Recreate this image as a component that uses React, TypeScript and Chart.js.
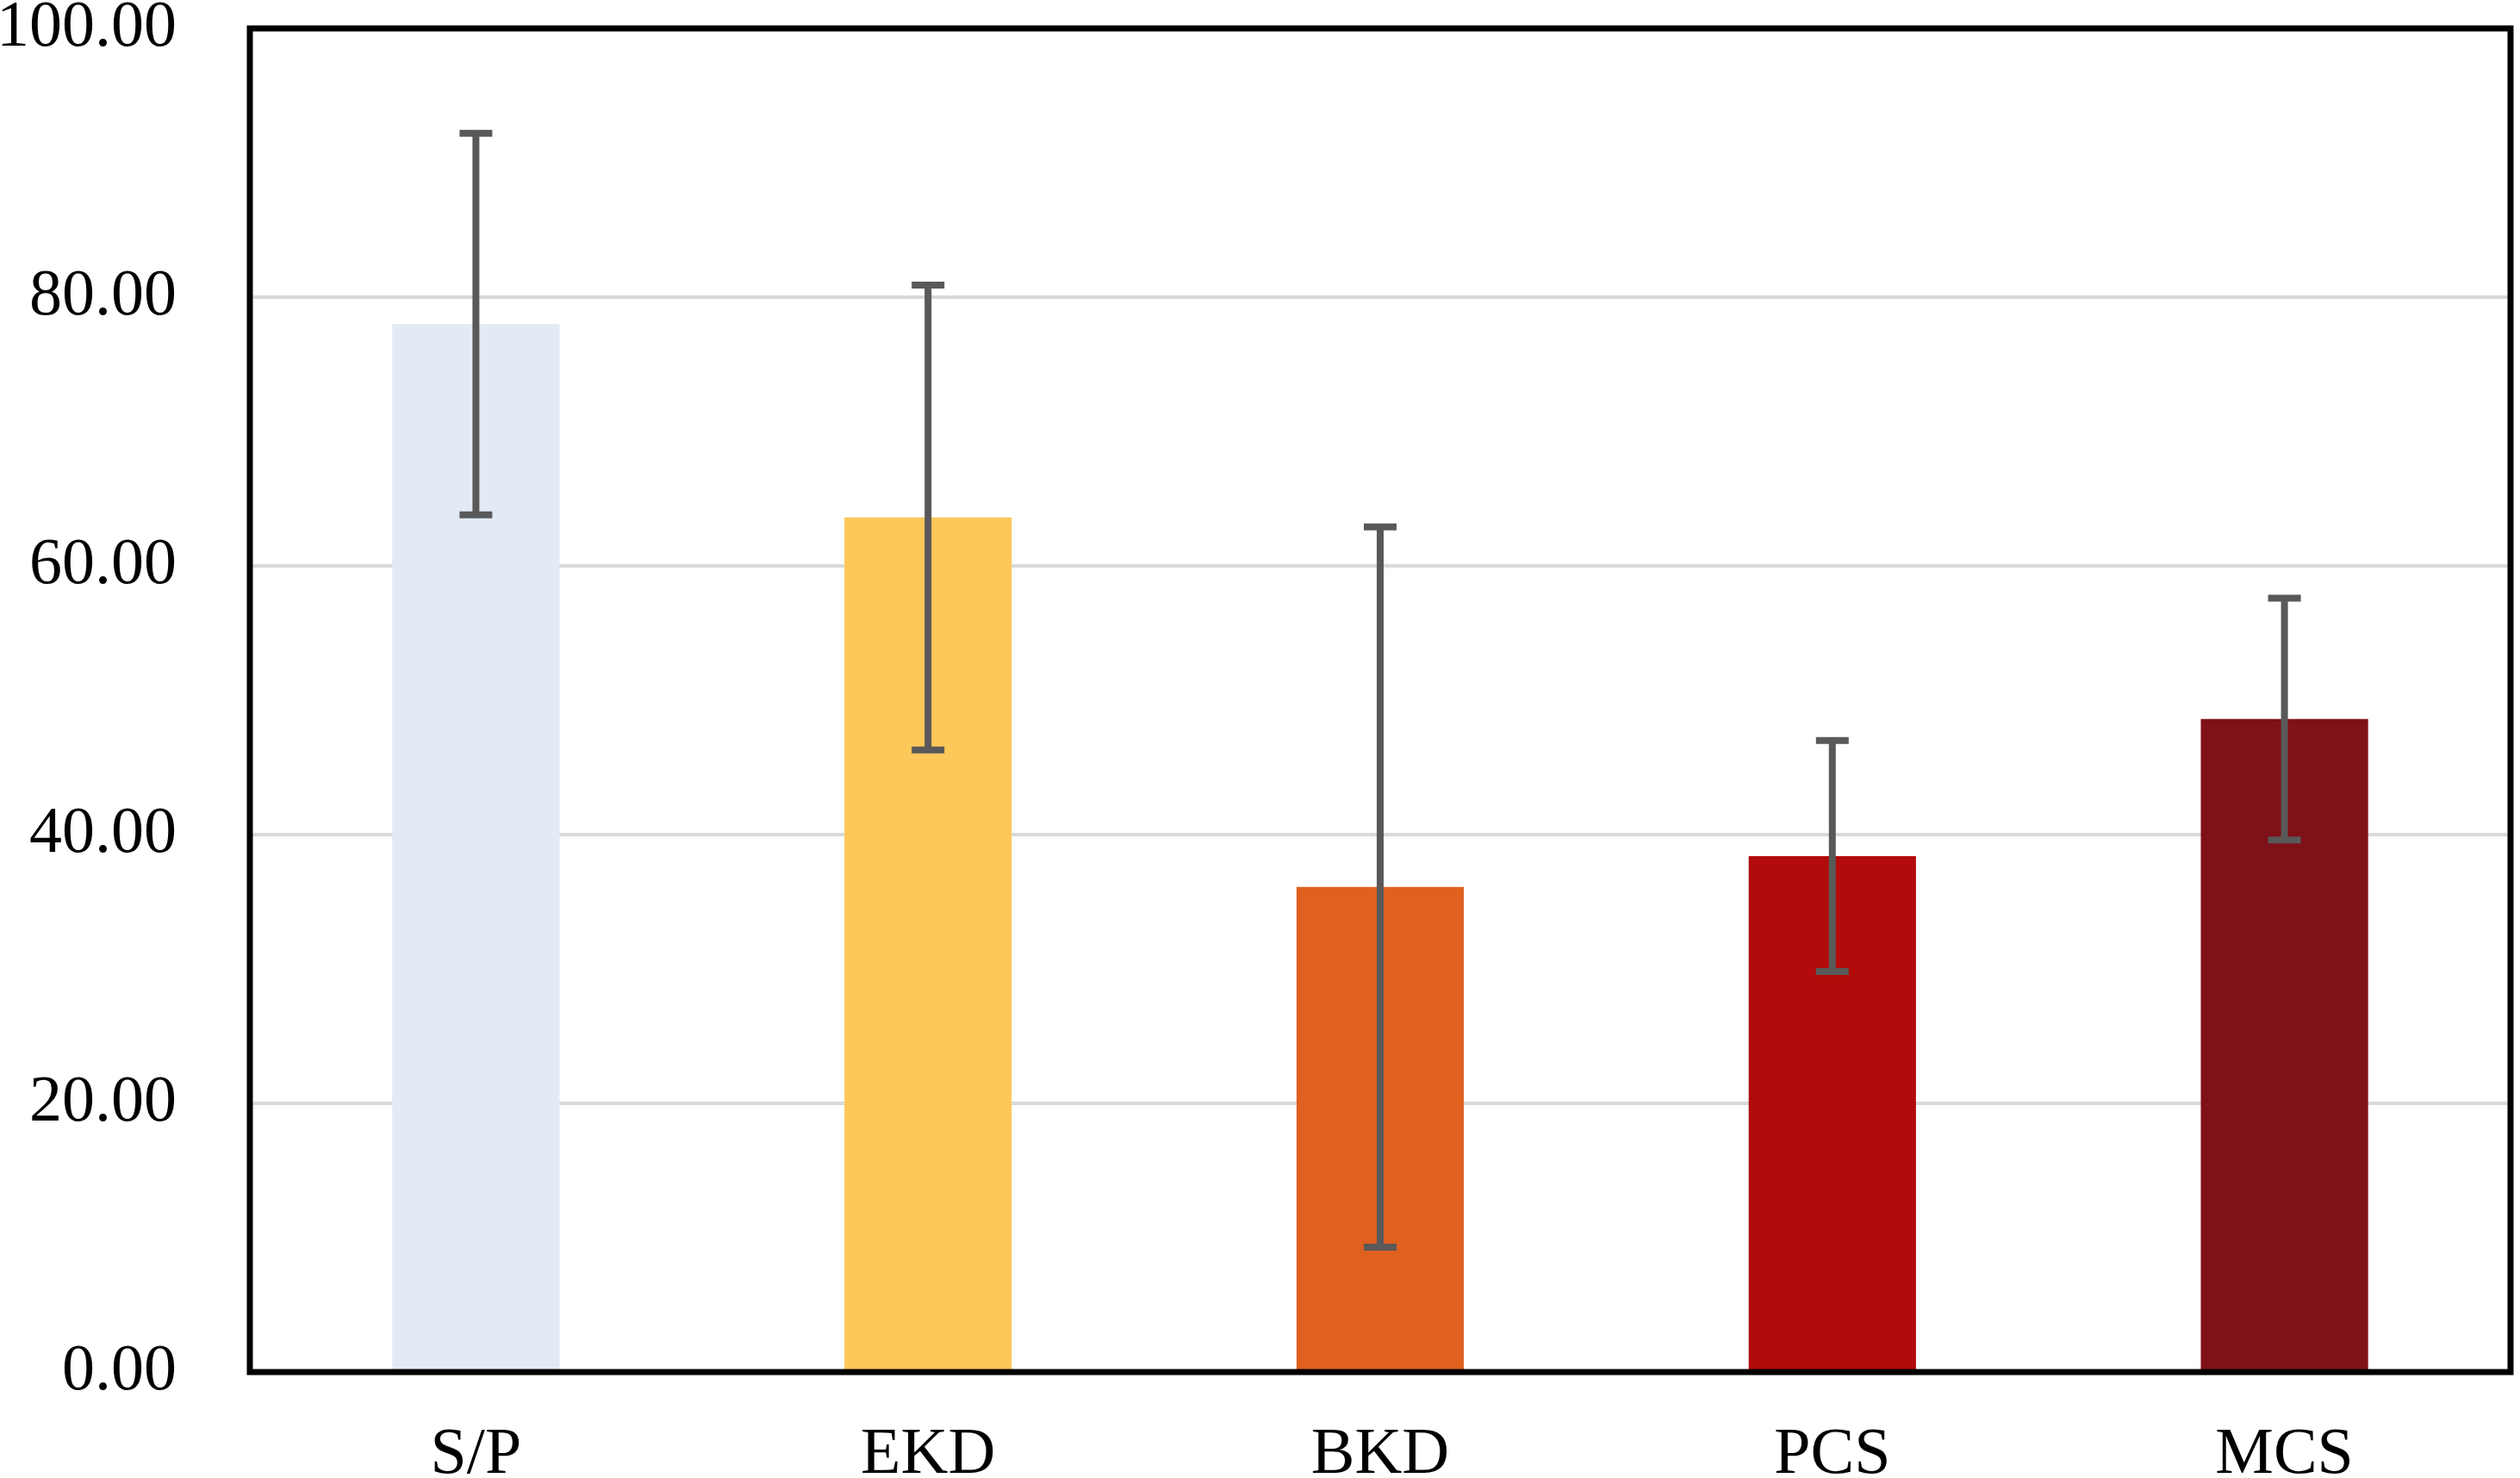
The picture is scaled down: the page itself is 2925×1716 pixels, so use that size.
import React, { useEffect, useRef } from "react";
import { Chart, registerables } from "chart.js";

Chart.register(...registerables);

const categories = ["S/P", "EKD", "BKD", "PCS", "MCS"];
const means = [78.0, 63.6, 36.1, 38.4, 48.6];
const errors = [14.2, 17.3, 26.8, 8.6, 9.0];
const barColors = ["#E2EAF4", "#FDC85A", "#E06020", "#B20B0B", "#7F1118"];
const yTicks = [0, 20, 40, 60, 80, 100];

const FONT = "'Liberation Serif', 'Times New Roman', serif";

const errorBarPlugin = {
  id: "errorBars",
  afterDatasetsDraw(chart: any) {
    const ctx = chart.ctx;
    const meta = chart.getDatasetMeta(0);
    const y = chart.scales.y;
    ctx.save();
    ctx.strokeStyle = "#595959";
    ctx.lineWidth = 8;
    ctx.lineCap = "butt";
    meta.data.forEach((bar: any, i: number) => {
      const x = bar.x;
      const top = y.getPixelForValue(means[i] + errors[i]);
      const bot = y.getPixelForValue(means[i] - errors[i]);
      const half = 19;
      ctx.beginPath();
      ctx.moveTo(x, top);
      ctx.lineTo(x, bot);
      ctx.moveTo(x - half, top);
      ctx.lineTo(x + half, top);
      ctx.moveTo(x - half, bot);
      ctx.lineTo(x + half, bot);
      ctx.stroke();
    });
    ctx.restore();
  },
};

const boxPlugin = {
  id: "plotBox",
  afterDraw(chart: any) {
    const { ctx, chartArea } = chart;
    ctx.save();
    ctx.strokeStyle = "#000000";
    ctx.lineWidth = 7;
    ctx.lineJoin = "miter";
    ctx.strokeRect(
      chartArea.left,
      chartArea.top,
      chartArea.right - chartArea.left,
      chartArea.bottom - chartArea.top
    );
    ctx.restore();
  },
};

export default function App() {
  const canvasRef = useRef<HTMLCanvasElement | null>(null);

  useEffect(() => {
    if (!canvasRef.current) return;
    const chart = new Chart(canvasRef.current, {
      type: "bar",
      data: {
        labels: categories,
        datasets: [
          {
            data: means,
            backgroundColor: barColors,
            borderWidth: 0,
            barPercentage: 1,
            categoryPercentage: 0.37,
          },
        ],
      },
      options: {
        animation: false,
        responsive: true,
        maintainAspectRatio: false,
        devicePixelRatio: 1,
        layout: { padding: { top: 33, right: 11, left: 0, bottom: 0 } },
        plugins: {
          legend: { display: false },
          tooltip: { enabled: false },
        },
        scales: {
          x: {
            grid: { display: false, drawTicks: false },
            border: { display: false },
            ticks: {
              color: "#000000",
              padding: 51,
              font: { family: FONT, size: 76 },
            },
            afterFit: (scale: any) => {
              scale.height = 1716 - 1593;
            },
          },
          y: {
            min: 0,
            max: 100,
            afterBuildTicks: (scale: any) => {
              scale.ticks = yTicks.map((v) => ({ value: v }));
            },
            grid: { color: "#D9D9D9", lineWidth: 4, drawTicks: false },
            border: { display: false },
            ticks: {
              color: "#000000",
              padding: 85,
              font: { family: FONT, size: 76 },
              callback: (v: any) => Number(v).toFixed(2),
            },
            afterFit: (scale: any) => {
              scale.width = 290;
              scale.paddingTop = 0;
              scale.paddingBottom = 0;
            },
          },
        },
      },
      plugins: [errorBarPlugin, boxPlugin],
    });
    return () => chart.destroy();
  }, []);

  return (
    <div
      style={{
        position: "absolute",
        left: 0,
        top: 0,
        width: 2925,
        height: 1716,
        background: "#ffffff",
      }}
    >
      <canvas ref={canvasRef} />
    </div>
  );
}
